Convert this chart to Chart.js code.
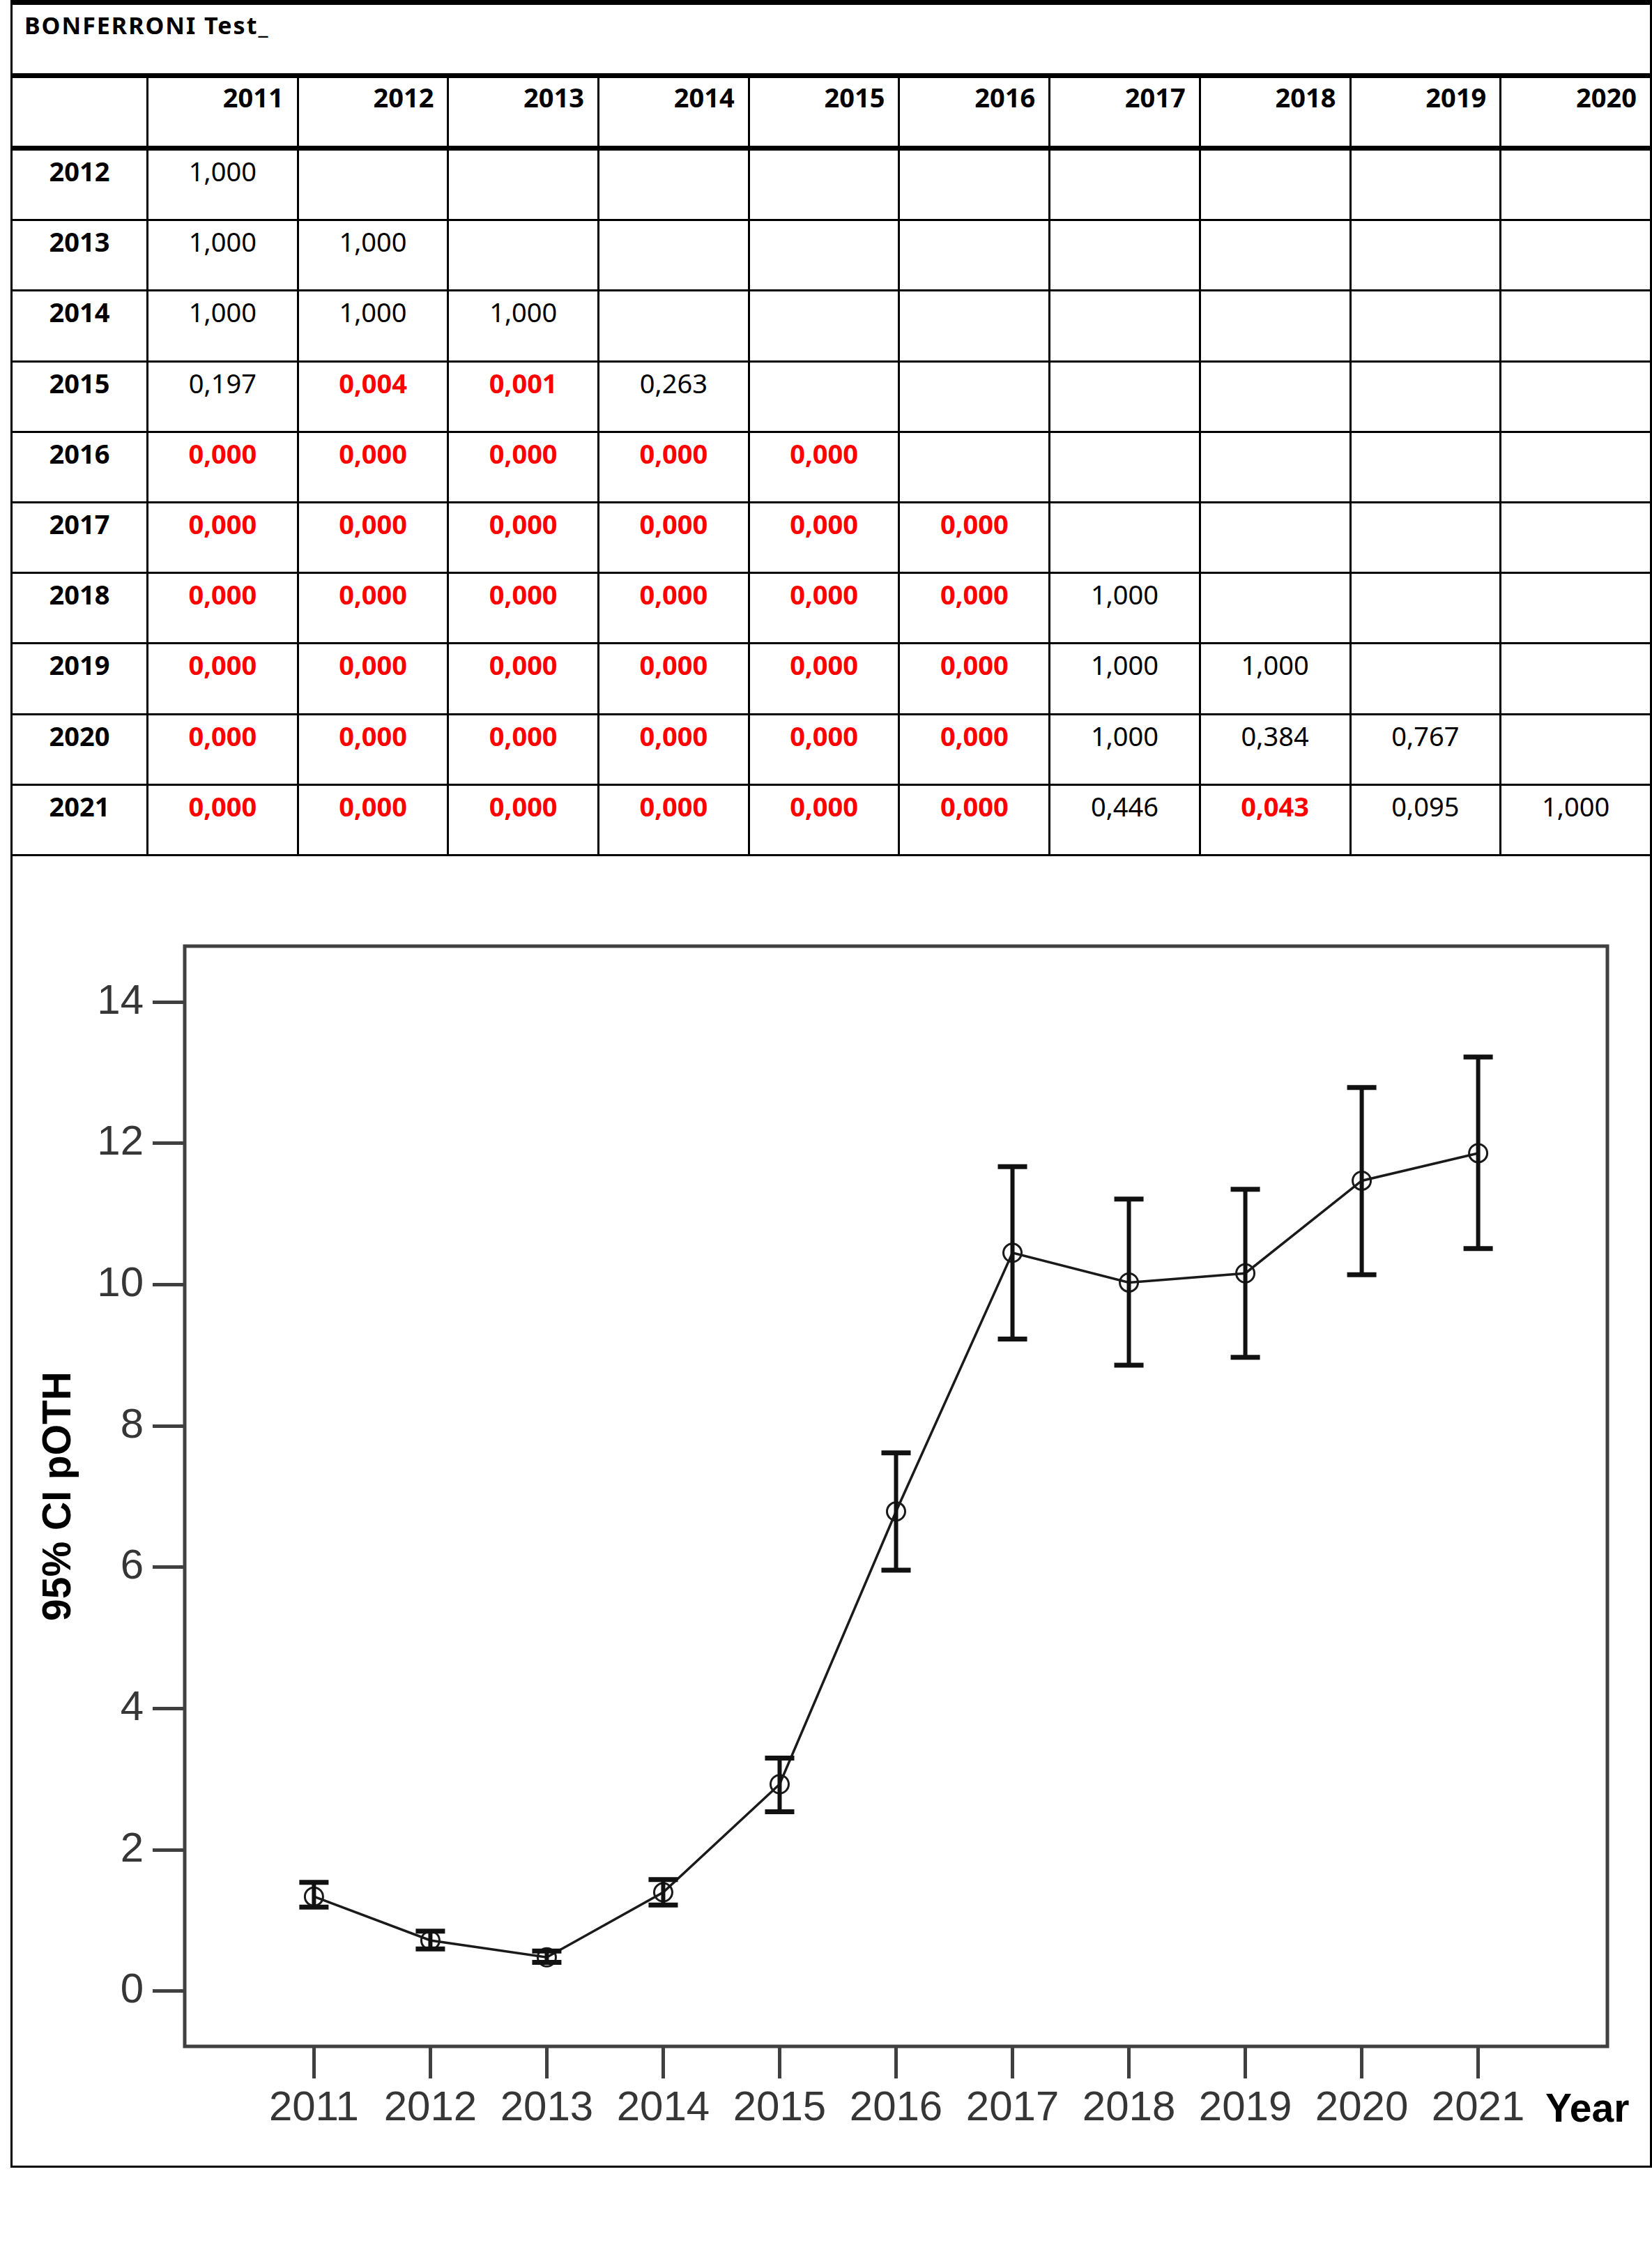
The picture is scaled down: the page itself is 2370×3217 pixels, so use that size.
<!DOCTYPE html>
<html>
<head>
<meta charset="utf-8">
<script src="https://cdn.jsdelivr.net/npm/chart.js@4.4.1/dist/chart.umd.min.js"></script>
<style>
  html, body { margin: 0; padding: 0; background: #fff; }
  body { width: 2370px; height: 3217px; position: relative; overflow: hidden; }
  #frame {
    position: absolute; left: 15px; top: 0; width: 2349px; height: 3106px;
    border-left: 3px solid #000; border-right: 3px solid #000; border-bottom: 3px solid #000;
    pointer-events: none; z-index: 2;
  }
  #pt {
    position: absolute; left: 15px; top: 0; width: 2352px;
    border-collapse: collapse; table-layout: fixed;
    font-family: "Noto Sans", "Open Sans", sans-serif; font-size: 38px; color: #000;
  }
  #pt td, #pt th { border: 3px solid #000; padding: 0; vertical-align: top; line-height: 46px; }
  #pt tr.title td {
    height: 92px; border-top: 7px solid #000; border-bottom: 7px solid #000;
    font-weight: bold; font-size: 34px; letter-spacing: 2px; padding: 6px 0 0 17px;
  }
  #pt tr.head th { height: 93px; border-bottom: 7px solid #000; text-align: right; padding: 4px 19px 0 0; font-weight: bold; }
  #pt tr.row td { height: 92.2px; text-align: center; padding-top: 6px; }
  #pt tr.row td.lab { font-weight: bold; }
  #pt td.sig { color: #ff0000; font-weight: bold; }
  #chart { position: absolute; left: 0; top: 1223px; }
</style>
</head>
<body>
<table id="pt"></table>
<canvas id="chart" width="2370" height="1885"></canvas>
<div id="frame"></div>
<script>
// Bonferroni p-values (rows = year compared, columns = reference year)
var colYears = [2011, 2012, 2013, 2014, 2015, 2016, 2017, 2018, 2019, 2020];
var rowYears = [2012, 2013, 2014, 2015, 2016, 2017, 2018, 2019, 2020, 2021];
var p2012 = [1.000];
var p2013 = [1.000, 1.000];
var p2014 = [1.000, 1.000, 1.000];
var p2015 = [0.197, 0.004, 0.001, 0.263];
var p2016 = [0.000, 0.000, 0.000, 0.000, 0.000];
var p2017 = [0.000, 0.000, 0.000, 0.000, 0.000, 0.000];
var p2018 = [0.000, 0.000, 0.000, 0.000, 0.000, 0.000, 1.000];
var p2019 = [0.000, 0.000, 0.000, 0.000, 0.000, 0.000, 1.000, 1.000];
var p2020 = [0.000, 0.000, 0.000, 0.000, 0.000, 0.000, 1.000, 0.384, 0.767];
var p2021 = [0.000, 0.000, 0.000, 0.000, 0.000, 0.000, 0.446, 0.043, 0.095, 1.000];
var pRows = [p2012, p2013, p2014, p2015, p2016, p2017, p2018, p2019, p2020, p2021];

// chart data: mean pOTH per year with 95% CI
var years = [2011, 2012, 2013, 2014, 2015, 2016, 2017, 2018, 2019, 2020, 2021];
var means = [1.34, 0.72, 0.48, 1.40, 2.93, 6.79, 10.45, 10.03, 10.16, 11.47, 11.86];
var ciLow = [1.19, 0.60, 0.41, 1.22, 2.54, 5.96, 9.23, 8.86, 8.97, 10.14, 10.51];
var ciHigh = [1.54, 0.85, 0.57, 1.58, 3.30, 7.62, 11.67, 11.21, 11.35, 12.79, 13.22];
var yTicks = [0, 2, 4, 6, 8, 10, 12, 14];

// build the table
var html = '<colgroup><col style="width:195px">';
for (var c = 0; c < colYears.length; c++) html += '<col style="width:215.7px">';
html += '</colgroup>';
html += '<tr class="title"><td colspan="11">BONFERRONI Test_</td></tr>';
html += '<tr class="head"><th></th>';
colYears.forEach(function(y) { html += '<th>' + y + '</th>'; });
html += '</tr>';
rowYears.forEach(function(y, r) {
    html += '<tr class="row"><td class="lab">' + y + '</td>';
    for (var c = 0; c < colYears.length; c++) {
        var v = pRows[r][c];
        if (v === undefined) { html += '<td></td>'; continue; }
        var txt = v.toFixed(3).replace('.', ',');
        html += '<td' + (v < 0.05 ? ' class="sig"' : '') + '>' + txt + '</td>';
    }
    html += '</tr>';
});
document.getElementById('pt').innerHTML = html;

var axisFont = {family: '"Liberation Sans", Arial, sans-serif', size: 60};

// box around the plot, CI bars and the "Year" label
var spssPlugin = {
    id: 'spss',
    afterDatasetsDraw: function(chart) {
        var ctx = chart.ctx, xs = chart.scales.x, ys = chart.scales.y, a = chart.chartArea;
        ctx.save();
        ctx.strokeStyle = '#111';
        ctx.lineCap = 'butt';
        for (var i = 0; i < years.length; i++) {
            var x = xs.getPixelForValue(years[i]);
            var yl = ys.getPixelForValue(ciLow[i]);
            var yh = ys.getPixelForValue(ciHigh[i]);
            ctx.lineWidth = 6;
            ctx.beginPath(); ctx.moveTo(x, yl); ctx.lineTo(x, yh); ctx.stroke();
            ctx.lineWidth = 7;
            ctx.beginPath();
            ctx.moveTo(x - 21, yh); ctx.lineTo(x + 21, yh);
            ctx.moveTo(x - 21, yl); ctx.lineTo(x + 21, yl);
            ctx.stroke();
        }
        ctx.strokeStyle = '#404040';
        ctx.lineWidth = 5;
        ctx.strokeRect(a.left, a.top, a.right - a.left, a.bottom - a.top);
        ctx.fillStyle = '#000';
        ctx.font = 'bold 57px "Liberation Sans", Arial, sans-serif';
        ctx.textAlign = 'left';
        ctx.textBaseline = 'alphabetic';
        ctx.fillText('Year', a.right - 89, a.bottom + 108);
        ctx.restore();
    }
};

new Chart(document.getElementById('chart'), {
    type: 'line',
    data: {
        datasets: [{
            data: years.map(function(y, i) { return {x: y, y: means[i]}; }),
            borderColor: '#1a1a1a',
            borderWidth: 3.5,
            pointRadius: 13,
            pointBorderWidth: 3,
            pointBorderColor: '#1a1a1a',
            pointBackgroundColor: 'rgba(255,255,255,0)',
            tension: 0
        }]
    },
    options: {
        responsive: false,
        animation: false,
        devicePixelRatio: 1,
        layout: {padding: {left: 0, right: 64, top: 134, bottom: 0}},
        plugins: {legend: {display: false}, tooltip: {enabled: false}},
        scales: {
            x: {
                type: 'linear',
                min: 2009.89,
                max: 2022.11,
                afterBuildTicks: function(s) { s.ticks = years.map(function(v) { return {value: v}; }); },
                afterFit: function(s) { s.height = 173; },
                grid: {drawOnChartArea: false, drawTicks: true, tickLength: 46, tickColor: '#404040', tickWidth: 5},
                border: {display: false},
                ticks: {font: axisFont, color: '#363636', padding: 7, maxRotation: 0, autoSkip: false,
                        callback: function(v) { return String(v); }}
            },
            y: {
                min: -0.78,
                max: 14.79,
                afterBuildTicks: function(s) { s.ticks = yTicks.map(function(v) { return {value: v}; }); },
                afterFit: function(s) { s.width = 265; },
                grid: {drawOnChartArea: false, drawTicks: true, tickLength: 46, tickColor: '#404040', tickWidth: 5},
                border: {display: false},
                ticks: {font: axisFont, color: '#363636', padding: 13, autoSkip: false,
                        callback: function(v) { return String(v); }},
                title: {
                    display: true,
                    text: '95% CI pOTH',
                    color: '#000',
                    font: {family: '"Liberation Sans", Arial, sans-serif', size: 57, weight: 'bold'},
                    padding: {top: 51, bottom: 0}
                }
            }
        }
    },
    plugins: [spssPlugin]
});
</script>
</body>
</html>
